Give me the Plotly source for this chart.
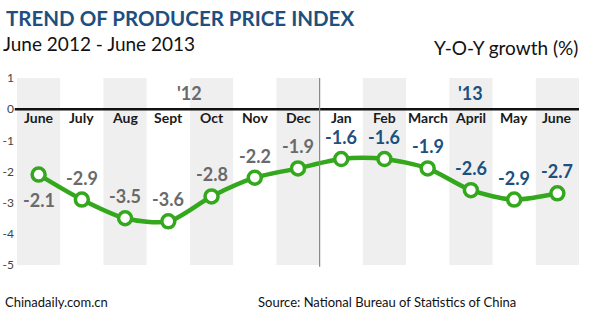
import plotly.graph_objects as go

months = ["June", "July", "Aug", "Sept", "Oct", "Nov", "Dec",
          "Jan", "Feb", "March", "April", "May", "June"]
values = [-2.1, -2.9, -3.5, -3.6, -2.8, -2.2, -1.9,
          -1.6, -1.6, -1.9, -2.6, -2.9, -2.7]
years = ["'12"] * 7 + ["'13"] * 6
ytick_vals = [1, 0, -1, -2, -3, -4, -5]
ytick_text = ["1", "0", "-1", "-2", "-3", "-4", "-5"]

FONT = "Lato"
BLUE = "#1d4f7f"
GRAY = "#6a6a6a"
GREEN = "#33a81c"

W, H = 589, 322
pl, pr, pt, pb = 17, 10, 78, 57
pw, ph = W - pl - pr, H - pt - pb


def px(xp):
    return (xp - pl) / pw


def py(yp):
    return (H - pb - yp) / ph


x = list(range(len(months)))

fig = go.Figure()
fig.add_trace(go.Scatter(
    x=x, y=values, mode="lines+markers",
    line=dict(color=GREEN, width=4.5, shape="spline", smoothing=0.8),
    marker=dict(size=13, color="white", line=dict(color=GREEN, width=3.5)),
    hoverinfo="skip", showlegend=False,
))

shapes = []
for i in range(0, len(months), 2):
    shapes.append(dict(type="rect", xref="x", yref="paper", x0=i - 0.5, x1=i + 0.5,
                       y0=0, y1=1, fillcolor="#efefef", line=dict(width=0), layer="below"))
shapes.append(dict(type="line", xref="paper", yref="y", x0=-0.004, x1=1, y0=0, y1=0,
                   line=dict(color="#111", width=2.5)))
shapes.append(dict(type="line", xref="x", yref="paper", x0=6.5, x1=6.5, y0=-0.01, y1=1,
                   line=dict(color="#888", width=1.2)))

ann = []
for i, m in enumerate(months):
    ann.append(dict(x=i, y=0, xref="x", yref="y", text=f"<b>{m}</b>", showarrow=False,
                    yanchor="top", yshift=1, borderpad=0,
                    font=dict(family=FONT, size=14, color="#1a1a1a")))
for i, (v, yr) in enumerate(zip(values, years)):
    col = GRAY if yr == "'12" else BLUE
    shift = -25 if i == 0 else 22
    ann.append(dict(x=i, y=v, xref="x", yref="y", text=f"<b>{v}</b>", showarrow=False,
                    yshift=shift, borderpad=0, font=dict(family=FONT, size=18, color=col)))
ann.append(dict(x=3.5, y=0.52, xref="x", yref="y", text="<b>'12</b>", showarrow=False,
                font=dict(family=FONT, size=18, color=GRAY)))
ann.append(dict(x=10, y=0.52, xref="x", yref="y", text="<b>'13</b>", showarrow=False,
                font=dict(family=FONT, size=18, color=BLUE)))

hdr = [
    dict(x=px(4), y=py(18), text="<b>TREND OF PRODUCER PRICE INDEX</b>",
         font=dict(family=FONT, size=20.5, color=BLUE)),
    dict(x=px(1), y=py(44), text="June 2012 - June 2013",
         font=dict(family=FONT, size=19, color="#111")),
    dict(x=px(3), y=py(302), text="Chinadaily.com.cn",
         font=dict(family=FONT, size=13, color="#111")),
]
for a in hdr:
    a.update(xref="paper", yref="paper", xanchor="left", yanchor="middle", showarrow=False)
hdr2 = [
    dict(x=px(580), y=py(47), text="Y-O-Y growth (%)", xanchor="right",
         font=dict(family=FONT, size=19, color="#111")),
    dict(x=px(518), y=py(302), text="Source: National Bureau of Statistics of China",
         xanchor="right", font=dict(family=FONT, size=13, color="#111")),
]
for a in hdr2:
    a.update(xref="paper", yref="paper", yanchor="middle", showarrow=False)
ann += hdr + hdr2

fig.update_layout(
    width=W, height=H,
    margin=dict(l=pl, r=pr, t=pt, b=pb, autoexpand=False),
    paper_bgcolor="white", plot_bgcolor="white",
    shapes=shapes,
    annotations=ann,
    xaxis=dict(range=[-0.5, 12.5], showgrid=False, zeroline=False, showticklabels=False,
               fixedrange=True, automargin=False),
    yaxis=dict(range=[-5, 1], tickvals=ytick_vals, ticktext=ytick_text, showgrid=False,
               zeroline=False, ticks="", tickfont=dict(family=FONT, size=12, color="#444"),
               ticklabelstandoff=2, fixedrange=True, automargin=False),
    font=dict(family=FONT),
)

fig.write_html("out.html")
